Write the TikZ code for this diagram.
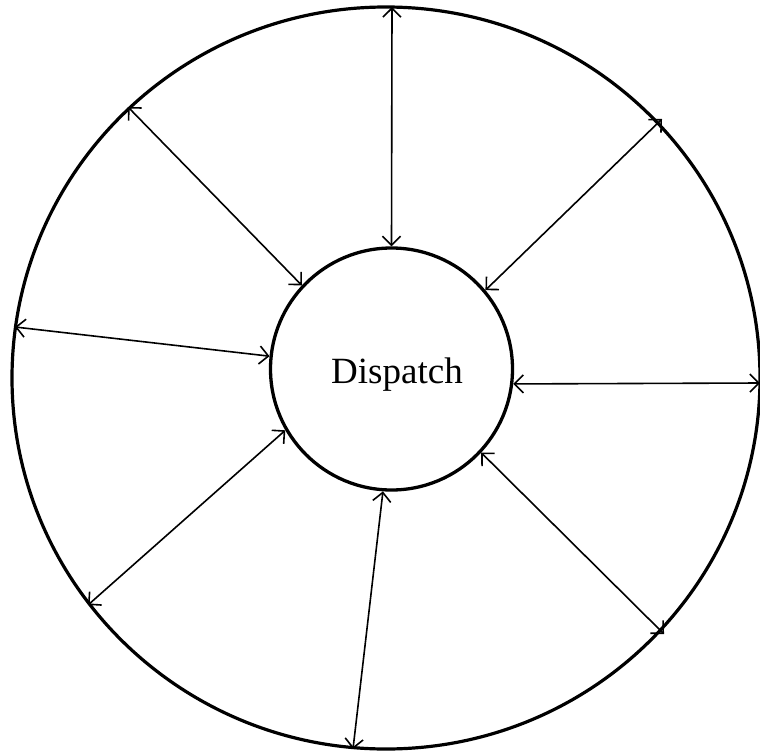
\documentclass[tikz,border=0pt]{standalone}
\usepackage{fontspec}
\setmainfont{Liberation Serif}
\usetikzlibrary{arrows.meta}
\begin{document}
\begin{tikzpicture}[x=1pt,y=-1pt,
  ring/.style={line width=3.2pt},
  hub/.style={circle,draw,line width=3.3pt,minimum size=242pt,inner sep=0pt},
  link/.style={line width=1.6pt,{Straight Barb[length=9pt,width=18pt]}-{Straight Barb[length=9pt,width=18pt]}}]
\useasboundingbox (0,0) rectangle (760,752);
\fill[white] (0,0) rectangle (760,752);
\draw[ring] (386,378) ellipse [x radius=374pt, y radius=371pt];
\node[hub] (d) at (391.5,369) {};
\node[font=\fontsize{37}{40}\selectfont,anchor=base] (t) at (397,383) {Dispatch};
\coordinate (o1) at (392,7);
\coordinate (o2) at (128,107);
\coordinate (o3) at (662,119);
\coordinate (o4) at (15,327);
\coordinate (o5) at (760,383);
\coordinate (o6) at (88,605);
\coordinate (o7) at (664,634);
\coordinate (o8) at (353,749);
\draw[link] (o1) -- (d.90);
\draw[link] (o2) -- (d.137.6);
\draw[link] (o3) -- (d.40.3);
\draw[link] (o4) -- (d.174.5);
\draw[link] (o5) -- (d.-7.3);
\draw[link] (o6) -- (d.210.6);
\draw[link] (o7) -- (d.-43.6);
\draw[link] (o8) -- (d.266);
\end{tikzpicture}
\end{document}
